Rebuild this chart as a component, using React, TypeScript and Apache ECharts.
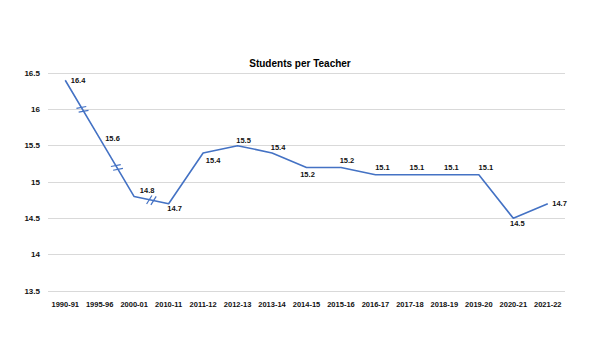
import React, { useEffect, useRef } from "react";
import * as echarts from "echarts";

const chartTitle = "Students per Teacher";
const categories = [
  "1990-91", "1995-96", "2000-01", "2010-11", "2011-12", "2012-13", "2013-14",
  "2014-15", "2015-16", "2016-17", "2017-18", "2018-19", "2019-20", "2020-21", "2021-22",
];
const studentsPerTeacher = [16.4, 15.6, 14.8, 14.7, 15.4, 15.5, 15.4, 15.2, 15.2, 15.1, 15.1, 15.1, 15.1, 14.5, 14.7];
// segments (start index) where the time axis is broken
const brokenSegments = [0, 1, 2];

// label placement per point: [position, distance, dx]
const labelPlacement: [string, number, number][] = [
  ["right", 5, 0],
  ["right", 5, 0],
  ["top", 2, 13],
  ["bottom", 0, 6],
  ["bottom", 3, 10],
  ["top", 1, 6],
  ["top", 1, 6],
  ["bottom", 3, 1],
  ["top", 2, 6],
  ["top", 3, 7],
  ["top", 3, 7],
  ["top", 3, 7],
  ["top", 3, 7],
  ["bottom", 1, 4],
  ["right", 4, 0],
];

const BLUE = "#4472C4";
const FONT = "Liberation Sans";

export default function App() {
  const ref = useRef<HTMLDivElement>(null);
  useEffect(() => {
    if (!ref.current) return;
    const chart = echarts.init(ref.current, null, { renderer: "svg" });
    chart.setOption({
      animation: false,
      backgroundColor: "#ffffff",
      title: {
        text: chartTitle,
        left: "center",
        top: 53,
        textStyle: { fontFamily: FONT, fontSize: 10, fontWeight: "bold", color: "#000" },
      },
      grid: { left: 48, right: 35, top: 73, bottom: 62 },
      xAxis: {
        type: "category",
        data: categories,
        boundaryGap: true,
        axisLine: { show: false },
        axisTick: { show: false },
        axisLabel: {
          interval: 0,
          margin: 9,
          fontFamily: FONT,
          fontSize: 7.5,
          fontWeight: "bold",
          color: "#111",
        },
      },
      yAxis: {
        type: "value",
        min: 13.5,
        max: 16.5,
        interval: 0.5,
        axisLine: { show: false },
        axisTick: { show: false },
        axisLabel: { margin: 8, fontFamily: FONT, fontSize: 8, fontWeight: "bold", color: "#111" },
        splitLine: { lineStyle: { color: "#d9d9d9", width: 1 } },
      },
      series: [
        {
          type: "line",
          data: studentsPerTeacher.map((v, i) => ({
            value: v,
            label: {
              show: true,
              position: labelPlacement[i][0],
              distance: labelPlacement[i][1],
              offset: [labelPlacement[i][2], 0],
            },
          })),
          symbol: "circle",
          symbolSize: 1,
          showSymbol: true,
          showAllSymbol: true,
          itemStyle: { color: "rgba(0,0,0,0)", borderWidth: 0 },
          lineStyle: { color: BLUE, width: 1.6 },
          label: {
            show: true,
            fontFamily: FONT,
            fontSize: 7.5,
            fontWeight: "bold",
            color: "#111",
          },
        },
        {
          type: "custom",
          clip: false,
          silent: true,
          data: brokenSegments.map((i) => [i, studentsPerTeacher[i], studentsPerTeacher[i + 1]]),
          renderItem: (_params: any, api: any) => {
            const i = api.value(0);
            const p1 = api.coord([i, api.value(1)]);
            const p2 = api.coord([i + 1, api.value(2)]);
            const mx = (p1[0] + p2[0]) / 2;
            const my = (p1[1] + p2[1]) / 2;
            const len = Math.hypot(p2[0] - p1[0], p2[1] - p1[1]);
            const dx = (p2[0] - p1[0]) / len;
            const dy = (p2[1] - p1[1]) / len;
            // perpendicular, tilted
            const ang = Math.atan2(-dx, dy) + (20 * Math.PI) / 180;
            const nx = Math.cos(ang);
            const ny = Math.sin(ang);
            const half = 5;
            const gap = 2.2;
            const children = [-1, 1].map((s) => {
              const cx = mx + s * gap * dx;
              const cy = my + s * gap * dy;
              return {
                type: "line",
                shape: { x1: cx - nx * half, y1: cy - ny * half, x2: cx + nx * half, y2: cy + ny * half },
                style: { stroke: BLUE, lineWidth: 1.2 },
              };
            });
            return { type: "group", children };
          },
        },
      ],
    });
    return () => chart.dispose();
  }, []);
  return (
    <div
      ref={ref}
      style={{ position: "fixed", left: 0, top: 0, width: 600, height: 353, background: "#fff" }}
    />
  );
}
